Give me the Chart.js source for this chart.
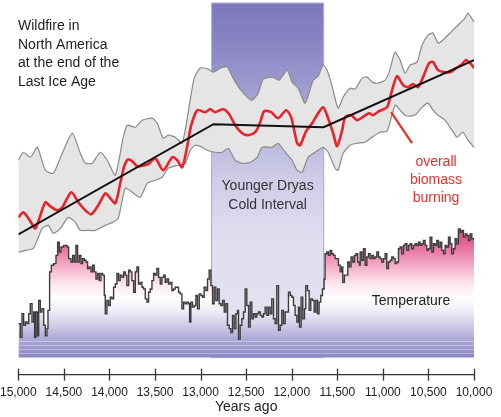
<!DOCTYPE html>
<html>
<head>
<meta charset="utf-8">
<script src="https://cdn.jsdelivr.net/npm/chart.js@4.4.1/dist/chart.umd.min.js"></script>
<style>
  html, body { margin: 0; padding: 0; background: #fff; }
  #wrap { width: 501px; height: 417px; position: relative; }
</style>
</head>
<body>
<div id="wrap"><canvas id="chart"></canvas></div>
<script>
// years ago
const burnYears = [15000,14945,14868,14814,14704,14649,14572,14518,14419,14342,14265,14200,14123,14046,13991,13936,13882,13838,13794,13739,13695,13575,13498,13410,13311,13257,13202,13147,13103,13037,12950,12895,12840,12752,12686,12621,12544,12478,12401,12346,12303,12226,12149,12061,12007,11941,11908,11842,11776,11710,11656,11601,11546,11502,11447,11414,11349,11283,11206,11151,11107,11042,10954,10899,10844,10778,10724,10669,10614,10559,10493,10450,10395,10329,10252,10197,10142,10088,10033,10000];
// overall biomass burning (relative index)
const burning = [-1.34,-1.24,-1.42,-1.56,-1.04,-1.12,-1.20,-1.14,-0.84,-1.04,-1.20,-1.28,-1.10,-0.86,-0.96,-1.06,-0.66,-0.32,-0.18,-0.24,-0.32,-0.28,-0.16,-0.40,-0.14,-0.20,-0.34,0.08,0.50,0.80,0.76,0.82,0.76,0.82,0.72,0.50,0.34,0.30,0.36,0.56,0.78,0.76,0.64,0.80,0.66,0.14,0.10,0.38,0.54,0.74,0.86,0.64,0.34,0.08,0.40,0.66,0.70,0.60,0.68,0.74,0.70,0.78,0.86,1.20,1.48,1.30,1.26,1.32,1.26,1.46,1.74,1.76,1.60,1.56,1.56,1.64,1.70,1.80,1.72,1.64];

const trendYears = [15000, 12860, 11650, 10000];
const trend = [-1.68, 0.52, 0.46, 1.80];

const upperYears = [15000,14945,14868,14792,14704,14616,14518,14408,14320,14265,14189,14101,14024,13936,13849,13805,13717,13640,13531,13476,13410,13355,13279,13202,13114,13070,13004,12917,12862,12785,12708,12643,12566,12478,12434,12368,12314,12215,12138,12050,11996,11930,11853,11765,11710,11656,11612,11557,11491,11436,11360,11305,11228,11173,11118,11053,10976,10932,10866,10811,10757,10702,10625,10570,10504,10450,10395,10340,10252,10175,10099,10066,10000];
const upper = [-0.20,-0.04,-0.14,0.06,-0.40,-0.46,-0.06,0.34,-0.06,-0.26,-0.26,-0.04,-0.20,-0.50,0.26,0.50,0.46,0.60,0.64,0.54,0.24,0.30,0.26,0.14,1.00,1.44,1.64,1.62,1.56,1.64,1.66,1.44,1.22,1.04,1.00,1.14,1.42,1.46,1.40,1.60,1.36,1.24,0.94,1.40,1.48,1.70,1.60,1.28,0.84,1.06,1.24,1.22,1.44,1.46,1.36,1.34,1.40,1.56,1.96,1.80,1.54,1.70,1.76,2.10,2.30,2.34,2.14,2.20,2.36,2.50,2.64,2.74,2.56];

const lowerYears = [15000,14923,14836,14781,14737,14671,14616,14539,14452,14375,14320,14243,14156,14046,13969,13904,13827,13750,13662,13586,13498,13421,13355,13246,13169,13114,13059,12982,12928,12840,12763,12697,12621,12544,12456,12379,12325,12215,12149,12072,11996,11941,11886,11820,11743,11656,11601,11524,11491,11436,11360,11283,11195,11118,11031,10954,10866,10811,10757,10702,10636,10570,10504,10450,10395,10318,10241,10186,10121,10066,10000];
const lower = [-2.04,-2.00,-1.96,-1.74,-1.56,-1.50,-1.66,-1.56,-1.34,-1.44,-1.60,-1.60,-1.60,-1.50,-1.44,-1.36,-0.76,-0.84,-0.94,-0.66,-0.60,-0.54,-0.36,-0.30,-0.26,0.00,0.10,0.06,0.00,-0.04,-0.04,0.04,-0.20,-0.26,-0.24,-0.14,0.06,0.06,0.14,-0.04,-0.20,-0.40,-0.44,-0.14,-0.04,0.06,-0.04,-0.36,-0.40,-0.06,0.10,0.14,0.16,0.26,0.36,0.38,0.90,0.80,0.70,0.68,0.72,0.86,0.94,0.80,0.70,0.60,0.40,0.26,0.36,0.20,0.06];

// temperature (deg C)
const tempYears = [
  15000,14978,14960,14942,14923,14905,14887,14869,14850,14832,14821,14806,14788,14777,14759,14741,14722,14704,14686,14675,14657,14638,14613,14587,14569,14551,14532,14503,14466,14448,14423,14404,14386,14368,14350,14331,14313,14295,14276,14258,14240,14222,14203,14185,14167,14148,14130,14112,14094,14075,14057,14046,14028,14010,13991,13973,13955,13936,13918,13900,13882,13863,13845,13827,13809,13790,
  13772,13754,13735,13717,13699,13681,13662,13644,13626,13607,13589,13571,13553,13534,13516,13498,13480,13461,13443,13425,13406,13388,13370,13352,13333,13315,13297,13279,13260,13242,13224,13205,13187,13169,13151,13132,13121,13107,13089,13070,13052,13034,13015,12997,12979,12961,12942,12924,12906,12887,12869,12851,12833,12814,12796,12778,12759,12741,12723,12705,12686,12668,12650,12632,12613,12595,12584,12566,12548,12529,
  12511,12493,12474,12456,12438,12420,12401,12383,12365,12346,12328,12310,12292,12273,12255,12237,12219,12200,12182,12164,12145,12127,12109,12091,12072,12054,12036,12017,11999,11981,11963,11944,11926,11915,11897,11879,11860,11846,11827,11809,11791,11773,11754,11736,11718,11700,11681,11663,11645,11634,11616,11597,11579,11561,11542,11524,11506,11488,11469,11451,11440,11422,11404,11385,11367,11349,11330,11312,11294,11276,11257,
  11249,11231,11213,11194,11176,11158,11140,11121,11103,11085,11066,11048,11030,11012,10993,10975,10957,10939,10920,10902,10884,10865,10847,10829,10811,10792,10774,10756,10737,10719,10701,10683,10664,10646,10628,10610,10591,10573,10555,10536,10518,10500,10482,10463,10445,10427,10408,10390,10372,10354,10335,10317,10299,10280,10262,10244,10226,10207,10189,10171,10152,10134,10116,10097,10079,10061,10043,10024,10000
];
const temperature = [
  -47.3,-49.8,-45.5,-47.6,-47.0,-47.3,-45.5,-43.7,-47.0,-45.2,-49.8,-45.2,-49.5,-43.1,-45.2,-44.6,-47.6,-49.5,-48.2,-44.9,-37.9,-36.7,-36.4,-34.9,-32.5,-34.3,-33.4,-33.1,-33.4,-35.5,-36.1,-34.9,-36.1,-33.1,-36.1,-34.9,-36.4,-35.5,-35.8,-36.1,-37.3,-37.0,-37.9,-36.7,-37.9,-39.2,-38.2,-39.5,-38.2,-38.5,-42.2,-45.5,-43.1,-44.0,-42.5,-42.8,-40.7,-40.1,-38.2,-39.5,-38.5,-38.9,-37.9,-38.5,-40.4,-37.6,
  -37.9,-39.5,-41.6,-37.9,-37.0,-40.1,-39.8,-40.7,-41.0,-42.8,-43.4,-41.6,-41.0,-39.5,-38.2,-38.5,-37.3,-38.9,-40.1,-38.9,-38.5,-39.8,-39.2,-40.1,-39.8,-41.3,-41.0,-40.7,-40.7,-41.6,-41.9,-44.6,-43.4,-43.7,-43.4,-43.7,-47.0,-43.4,-44.3,-44.0,-42.2,-44.6,-41.9,-42.2,-42.5,-40.7,-41.3,-39.2,-37.6,-40.4,-43.7,-40.7,-43.1,-41.0,-43.7,-44.0,-43.1,-45.2,-43.7,-47.6,-48.2,-48.9,-45.8,-48.2,-45.5,-44.9,-50.1,-47.6,-46.4,-45.2,
  -41.0,-44.0,-47.9,-43.4,-46.4,-45.5,-46.1,-45.5,-45.2,-45.8,-46.1,-45.5,-44.3,-45.8,-44.3,-45.5,-42.8,-46.4,-47.3,-40.4,-48.5,-47.6,-44.9,-47.3,-45.2,-45.2,-41.6,-42.2,-42.5,-44.0,-45.8,-47.0,-44.3,-47.9,-42.5,-46.4,-44.6,-40.4,-41.3,-44.9,-42.8,-43.1,-45.2,-43.1,-45.5,-43.4,-42.2,-41.0,-39.2,-34.6,-34.3,-34.9,-34.0,-34.6,-34.9,-35.5,-35.5,-36.7,-37.9,-37.0,-39.8,-38.5,-38.5,-36.1,-37.0,-35.2,-36.1,-34.9,-34.6,-36.1,-36.7,
  -34.3,-35.8,-33.7,-36.7,-35.2,-34.6,-35.5,-34.9,-35.5,-35.2,-34.3,-35.2,-35.5,-36.1,-35.5,-34.6,-37.3,-36.1,-35.8,-35.2,-35.5,-36.4,-36.1,-33.7,-33.4,-34.6,-33.1,-32.8,-34.0,-33.1,-32.8,-33.7,-33.1,-32.8,-33.1,-32.5,-33.1,-32.8,-32.2,-33.1,-34.0,-33.7,-31.6,-34.3,-32.8,-33.1,-32.2,-33.4,-32.5,-34.0,-34.6,-33.1,-33.4,-31.6,-32.8,-34.6,-33.7,-31.9,-32.8,-30.1,-30.7,-30.4,-31.6,-31.0,-31.3,-32.2,-31.0,-31.9,-32.2
];

const tickYears = [15000,14500,14000,13500,13000,12500,12000,11500,11000,10500,10000];
const dryasStart = 12880, dryasEnd = 11650;
const tempBase = -53.45;

const FONT = '"Liberation Sans", Arial, Helvetica, sans-serif';
Chart.defaults.font.family = FONT;
Chart.defaults.color = '#222';

function pts(xs, ys) { return xs.map((v, i) => ({ x: v, y: ys[i] })); }

function tempFill(c) {
  const chart = c.chart;
  if (!chart.chartArea) return 'rgba(0,0,0,0)';
  const y2 = chart.scales.y2;
  const top = y2.getPixelForValue(-30), bot = y2.getPixelForValue(tempBase);
  const g = chart.ctx.createLinearGradient(0, top, 0, bot);
  g.addColorStop(0, '#e0407a');
  g.addColorStop(0.13, '#e8679a');
  g.addColorStop(0.29, '#f3adc8');
  g.addColorStop(0.44, '#fce9f0');
  g.addColorStop(0.54, '#ffffff');
  g.addColorStop(0.64, '#eeedf7');
  g.addColorStop(0.75, '#cfcce8');
  g.addColorStop(0.87, '#a9a5d6');
  g.addColorStop(1, '#8b86c5');
  return g;
}

const extras = {
  id: 'extras',
  beforeDatasetsDraw(chart) {
    const { ctx, scales: { x, y, y2 } } = chart;
    const l = x.getPixelForValue(dryasStart), r = x.getPixelForValue(dryasEnd);
    const t = y.getPixelForValue(2.94), b = y2.getPixelForValue(tempBase);
    const g = ctx.createLinearGradient(0, t, 0, b);
    g.addColorStop(0, '#7c77bb');
    g.addColorStop(0.12, '#8a86c4');
    g.addColorStop(0.3, '#aaa7d6');
    g.addColorStop(0.5, '#cfcde7');
    g.addColorStop(0.68, '#e1dff0');
    g.addColorStop(1, '#e5e3f1');
    ctx.save();
    ctx.fillStyle = g;
    ctx.fillRect(l, t, r - l, b - t);
    ctx.strokeStyle = '#b3afdb';
    ctx.lineWidth = 1.2;
    ctx.strokeRect(l, t, r - l, b - t);
    ctx.restore();
  },
  afterDatasetsDraw(chart) {
    // faint stripes in the cold part of the temperature fill
    const { ctx, chartArea, scales: { y2 } } = chart;
    ctx.save();
    ctx.strokeStyle = 'rgba(255,255,255,0.35)';
    ctx.lineWidth = 1;
    for (let k = 1; k <= 4; k++) {
      const py = Math.round(y2.getPixelForValue(tempBase + k * 0.75)) + 0.5;
      ctx.beginPath();
      ctx.moveTo(chartArea.left, py);
      ctx.lineTo(chartArea.right, py);
      ctx.stroke();
    }
    ctx.restore();
  },
  afterDraw(chart) {
    const { ctx, chartArea, scales: { x, y } } = chart;
    ctx.save();
    // tick marks crossing the axis
    ctx.strokeStyle = '#333';
    ctx.lineWidth = 1.3;
    x.ticks.forEach(t => {
      const px = Math.round(x.getPixelForValue(t.value)) + 0.5;
      ctx.beginPath();
      ctx.moveTo(px, chartArea.bottom - 6);
      ctx.lineTo(px, chartArea.bottom + 6);
      ctx.stroke();
    });

    ctx.font = '14px ' + FONT;
    ctx.fillStyle = '#222';
    ctx.textAlign = 'left';
    ['Wildfire in', 'North America', 'at the end of the', 'Last Ice Age'].forEach((s, i) => {
      ctx.fillText(s, 18, 30 + i * 18.6);
    });

    ctx.textAlign = 'center';
    const cx = (x.getPixelForValue(dryasStart) + x.getPixelForValue(dryasEnd)) / 2;
    ctx.fillStyle = '#333';
    ctx.fillText('Younger Dryas', cx, 190);
    ctx.fillText('Cold Interval', cx, 208.5);

    ctx.fillStyle = '#222';
    ctx.fillText('Temperature', 411, 305);

    ctx.fillStyle = '#e8302a';
    ['overall', 'biomass', 'burning'].forEach((s, i) => ctx.fillText(s, 436, 165.5 + i * 18));

    // pointer to the red curve
    ctx.strokeStyle = '#e8302a';
    ctx.lineWidth = 2.2;
    ctx.beginPath();
    ctx.moveTo(x.getPixelForValue(10910), y.getPixelForValue(0.76));
    ctx.lineTo(x.getPixelForValue(10680), y.getPixelForValue(0.14));
    ctx.stroke();
    ctx.restore();
  }
};

new Chart(document.getElementById('chart'), {
  type: 'line',
  data: {
    datasets: [
      { data: pts(trendYears, trend), borderColor: '#111', borderWidth: 2, tension: 0, yAxisID: 'y' },
      { data: pts(burnYears, burning), borderColor: '#e8232a', borderWidth: 2.6, tension: 0.25, yAxisID: 'y' },
      { data: pts(upperYears, upper), borderColor: '#8a8a8a', borderWidth: 1.2, tension: 0.2, fill: false, yAxisID: 'y' },
      { data: pts(lowerYears, lower), borderColor: '#8a8a8a', borderWidth: 1.2, tension: 0.2, fill: '-1', backgroundColor: '#e5e5e5', yAxisID: 'y' },
      { data: pts(tempYears, temperature), borderColor: '#3d3d3d', borderWidth: 1.4, stepped: true, fill: { value: tempBase }, backgroundColor: tempFill, yAxisID: 'y2' }
    ]
  },
  options: {
    responsive: true,
    maintainAspectRatio: false,
    animation: false,
    events: [],
    layout: { padding: { left: 18, right: 27, top: 0, bottom: 3 } },
    elements: { point: { radius: 0 } },
    plugins: { legend: { display: false }, tooltip: { enabled: false } },
    scales: {
      x: {
        type: 'linear',
        reverse: true,
        min: 10000,
        max: 15000,
        afterBuildTicks: s => { s.ticks = tickYears.map(v => ({ value: v })); },
        grid: { display: false, drawTicks: true, tickLength: 11 },
        border: { display: true, color: '#333', width: 1.3 },
        ticks: {
          autoSkip: false, maxRotation: 0, padding: 0,
          font: { size: 12 }, color: '#222',
          callback: v => v.toLocaleString('en-US')
        },
        title: { display: true, text: 'Years ago', font: { size: 14, lineHeight: 1 }, color: '#222', padding: { top: 0, bottom: 0 } }
      },
      y: { display: false, min: -4.48, max: 3.0 },
      y2: { display: false, min: -56.55, max: 11.45 }
    }
  },
  plugins: [extras]
});
</script>
</body>
</html>
